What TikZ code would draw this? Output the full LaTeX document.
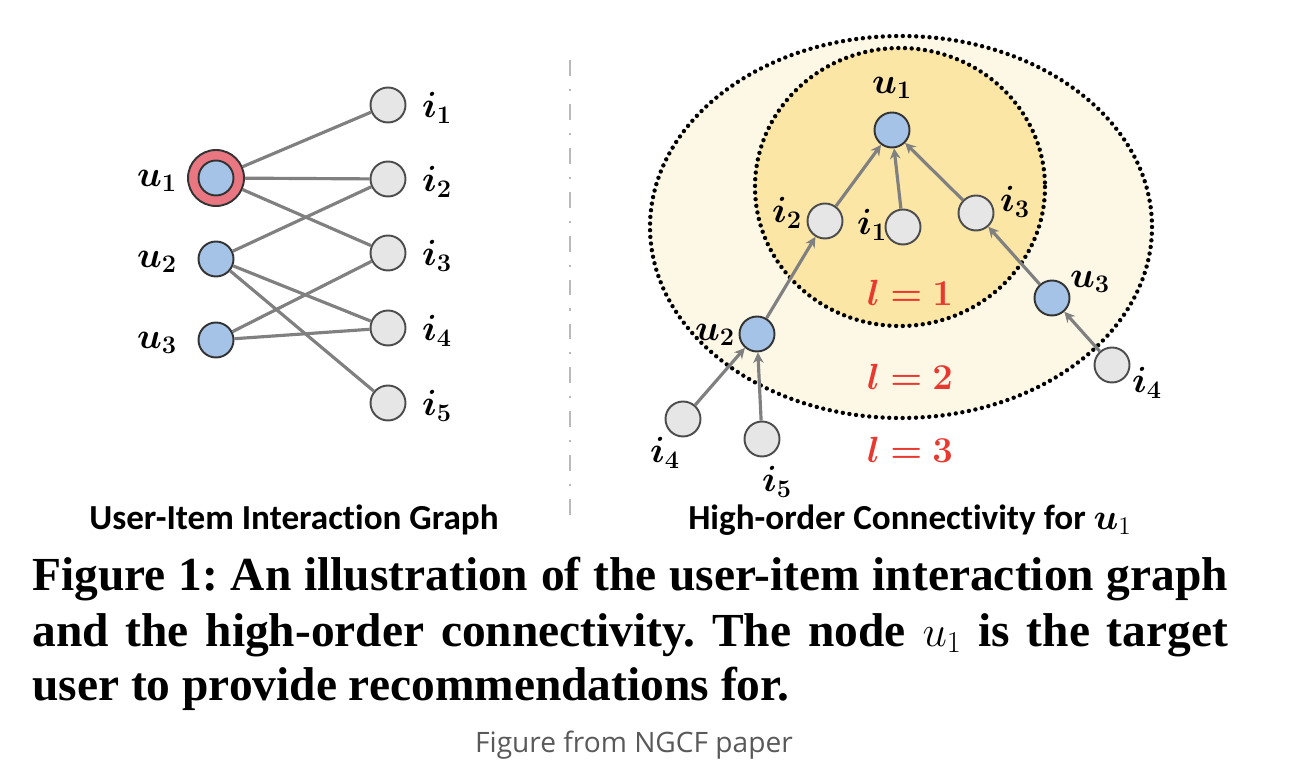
\documentclass[tikz,border=0pt]{standalone}
\usepackage{amsmath,bm}
\usepackage{fontspec}
\setmainfont{Liberation Serif}
\newfontfamily\calibfont[Ligatures=NoCommon]{Carlito}
\newfontfamily\notefont{Open Sans}
\usetikzlibrary{arrows.meta}
\definecolor{userblue}{RGB}{164,195,230}
\definecolor{itemgray}{RGB}{230,230,230}
\definecolor{ringred}{RGB}{232,119,130}
\definecolor{layerone}{RGB}{251,230,166}
\definecolor{layertwo}{RGB}{253,248,230}
\definecolor{edgegray}{RGB}{128,128,128}
\definecolor{layerred}{RGB}{232,56,48}

\begin{document}
\frenchspacing
\begin{tikzpicture}[x=.02cm,y=-.02cm,
 user/.style={circle,draw=black!80,line width=1.1pt,fill=userblue,minimum size=.7cm,inner sep=0},
 item/.style={user,fill=itemgray,draw=black!70},
 lbl/.style={font=\fontsize{22}{24}\selectfont,inner sep=0},
 layerlbl/.style={font=\fontsize{20}{22}\selectfont,text=layerred,inner sep=0},
 link/.style={edgegray,line width=1.8pt},
 flow/.style={link,-{Stealth[length=6pt,width=6pt]}},
 layerdot/.style={black,line width=2.5pt,dash pattern=on 0pt off 3.8pt,line cap=round},
 title/.style={font=\calibfont\bfseries\fontsize{20}{24}\selectfont,inner sep=0}]
 \useasboundingbox (0,0) rectangle (1302,780);
 % left: bipartite graph
 \node[circle,draw=black!80,line width=1.1pt,fill=ringred,minimum size=1.12cm,inner sep=0] (u1) at (216,178) {};
 \node[user] (u1c) at (216,178) {};
 \foreach \n/\y in {2/259,3/340}
  \node[user] (u\n) at (216,\y) {};
 \foreach \n/\y in {1/178,2/259,3/340}
  \node[lbl] (lu\n) at (157,\y+3) {$\bm{u_\n}$};
 \foreach \n/\y in {1/105,2/179,3/253,4/328,5/403}{
  \node[item] (i\n) at (388,\y) {};
  \node[lbl] (li\n) at (437,\y+3) {$\bm{i_\n}$};}
 \foreach \a/\b in {u1/i1,u1/i2,u1/i3,u2/i2,u2/i4,u2/i5,u3/i3,u3/i4}
  \draw[link] (\a) -- (\b);
 % separator
 \coordinate (septop) at (570,60);
 \coordinate (sepbot) at (570,527);
 \draw[gray!55,line width=1.5pt,dash pattern=on 9pt off 7.4pt on 1.2pt off 7.4pt] (septop) -- (sepbot);
 % right: layers
 \draw[layerdot,fill=layertwo] (901,227) ellipse [x radius=251,y radius=191];
 \draw[layerdot,fill=layerone] (900,187) ellipse [x radius=145,y radius=139];
 \node[user] (ru1) at (892,130) {};
 \foreach \nm/\x/\y in {ri2/825/221,ri1/903/227,ri3/976/213,ri4a/683/419,ri5/762/439,ri4b/1112/365}
  \node[item] (\nm) at (\x,\y) {};
 \foreach \nm/\x/\y in {ru2/757/334,ru3/1052/298}
  \node[user] (\nm) at (\x,\y) {};
 \foreach \a/\b in {ri2/ru1,ri1/ru1,ri3/ru1,ru2/ri2,ru3/ri3,ri4a/ru2,ri5/ru2,ri4b/ru3}
  \draw[flow] (\a) -- (\b);
 \foreach \nm/\x/\y/\t in {lru1/892/88/u_1,lri2/787/213/i_2,lri1/872/225/i_1,lri3/1015/202/i_3,
  lru3/1090/282/u_3,lru2/715/335/u_2,lri4a/665/453/i_4,lri5/777/482/i_5,lri4b/1147/383/i_4}
  \node[lbl] (\nm) at (\x,\y) {$\bm{\t}$};
 \foreach \n/\y in {1/293,2/377,3/450}
  \node[layerlbl] (lay\n) at (910,\y) {$\bm{l=\n}$};
 % titles
 \node[title] (gtitle) at (294,520) {User-Item Interaction Graph};
 \node[title] (ctitle) at (910,520) {High-order Connectivity for $\bm{u}_1$};
 % caption
 \begin{scope}[font=\bfseries\fontsize{27}{32}\selectfont]
  \node[anchor=base west,inner sep=0] (cap1) at (32,590) {\makebox[23.92cm][s]{Figure 1: An illustration of the user-item interaction graph}};
  \node[anchor=base west,inner sep=0] (cap2) at (32,646) {\makebox[23.92cm][s]{and the high-order connectivity. The node \mdseries$u_1$ \bfseries is the target}};
  \node[anchor=base west,inner sep=0] (cap3) at (32,700) {user to provide recommendations for.};
 \end{scope}
 \node[font=\notefont\fontsize{16}{19}\selectfont,text=black!65,inner sep=0] (note) at (634,745) {Figure from NGCF paper};
\end{tikzpicture}
\end{document}
